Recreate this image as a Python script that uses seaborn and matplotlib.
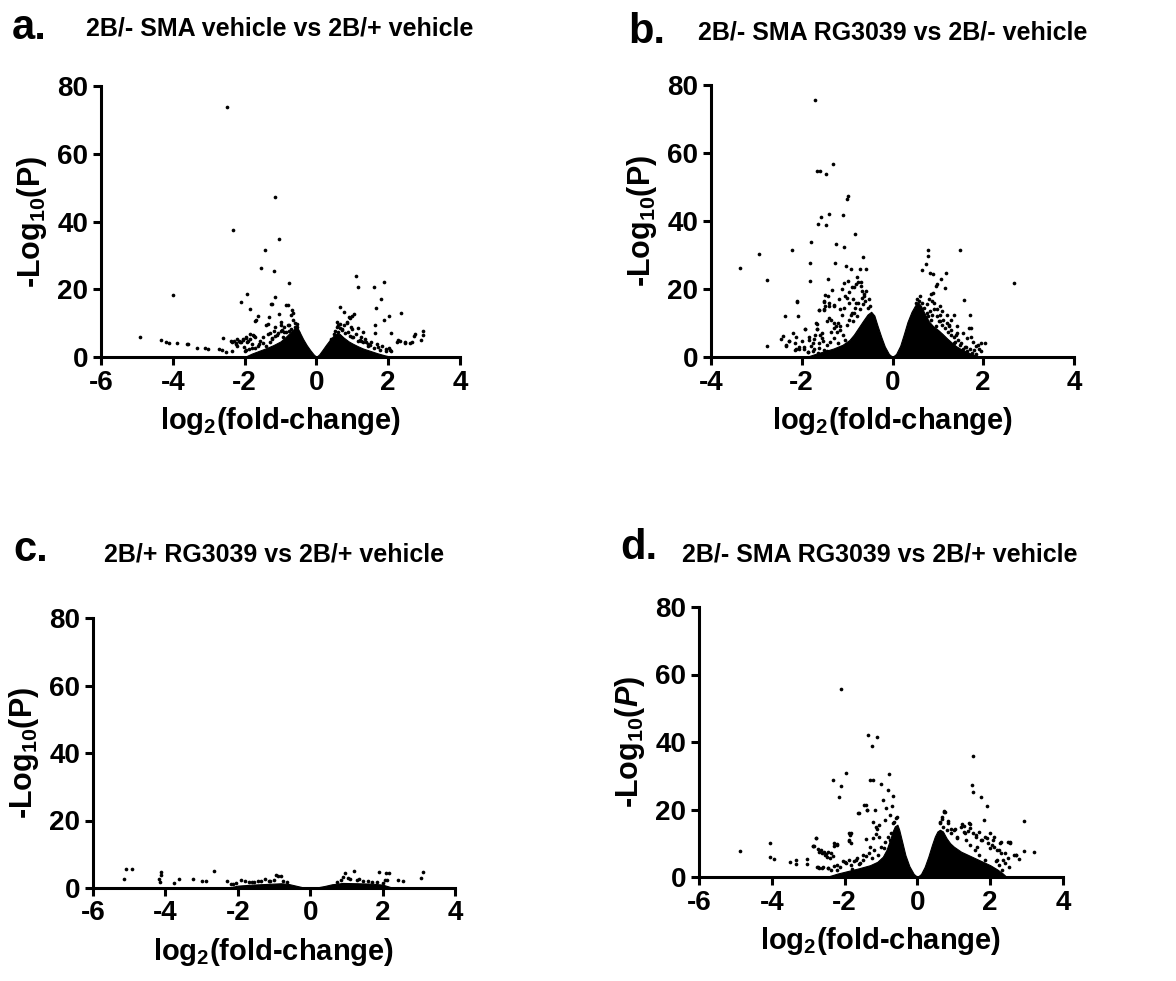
import numpy as np
import pandas as pd
import matplotlib
matplotlib.use("Agg")
import matplotlib.pyplot as plt
import seaborn as sns

# volcano plots, 4 comparisons
## values (log2 fold-change, -log10 P)
## the solid core of each cloud is drawn as an envelope, the rest as single genes

# a. 2B/- SMA vehicle vs 2B/+ vehicle
a_fc = [-4.92, -4.34, -4.18, -4.11, -3.99, -3.87, -3.61, -3.57, -3.33, -3.11, -3.03, -2.70, -2.64, -2.60,
        -2.52, -2.50, -2.36, -2.34, -2.32, -2.25, -2.21, -2.15, -2.11, -2.09, -2.05, -1.97, -1.93, -1.91,
        -1.84, -1.84, -1.75, -1.72, -1.70, -1.68, -1.64, -1.54, -1.44, -1.41, -1.35, -1.33, -1.27, -1.23,
        -1.17, -1.16, -1.15, -1.15, -1.04, -1.04, -1.00, -0.98, -0.84, -0.80, -0.77, -0.70, -0.67, -0.64,
        -0.66, -0.60, -0.75, -0.90, -1.10, -1.25, -1.50, -1.62, -1.80, -1.95, -2.02, -1.30, -0.95, -0.55,
        0.57, 0.61, 0.67, 0.76, 0.90, 0.93, 0.98, 1.04, 0.85, 0.95, 1.11, 1.17, 1.15, 1.30, 1.61, 1.62,
        1.64, 1.65, 1.80, 1.88, 1.88, 2.01, 2.09, 2.25, 2.28, 2.34, 2.36, 2.47, 2.48, 2.62, 2.66, 2.71,
        2.75, 2.91, 2.96, 2.98, 0.70, 0.80, 1.00, 1.22, 1.38, 1.50, 1.72, 1.95, 2.05, 1.45, 1.25, 0.65]
a_p = [6.0, 5.0, 4.5, 4.2, 18.2, 4.0, 3.7, 3.7, 2.8, 2.8, 2.5, 2.5, 2.0, 5.6,
       1.4, 73.9, 1.7, 4.4, 37.4, 4.2, 3.3, 4.7, 16.2, 4.4, 5.3, 5.7, 18.6, 4.7,
       14.3, 6.8, 6.2, 5.8, 10.7, 10.9, 12.2, 26.3, 31.6, 9.5, 9.8, 11.7, 15.6, 15.6,
       25.3, 8.9, 47.2, 17.6, 34.9, 12.6, 10.4, 9.4, 15.4, 15.4, 21.9, 12.4, 13.9, 13.1,
       11.0, 10.0, 9.5, 7.5, 6.5, 5.5, 4.0, 3.2, 2.6, 2.2, 3.0, 7.0, 8.0, 9.0,
       10.4, 9.4, 14.8, 13.4, 11.9, 11.5, 12.0, 12.6, 10.0, 9.0, 23.9, 20.7, 8.5, 7.5, 20.8, 9.4,
       7.0, 14.6, 17.0, 22.1, 10.9, 12.1, 7.2, 4.5, 4.9, 4.7, 13.0, 4.4, 4.2, 4.1, 4.4, 6.1,
       6.9, 4.9, 6.6, 7.6, 8.0, 7.0, 6.0, 5.0, 4.5, 3.5, 3.0, 2.5, 2.0, 3.8, 4.8, 8.5]
a_spray_fc = [-2.38, -2.30, -2.25, -2.21, -2.13, -2.05, -1.97, -1.93, -1.84, -1.80, -1.76, -1.72, -1.89,
              -1.98, -1.60, -1.56, -1.48, -1.41, -1.35, -1.30, -1.23, -1.19, -1.15, -1.07, -1.00, -0.94,
              -0.90, -0.86, -0.80, -0.75, -0.70, -0.66, -0.61, -0.57, -0.53, -0.51,
              0.41, 0.48, 0.53, 0.57, 0.61, 0.66, 0.72, 0.78, 0.84, 0.89, 0.94, 0.98, 1.02, 1.11, 1.16,
              1.23, 1.30, 1.35, 1.43, 1.52, 1.60, 1.68, 1.76, 1.84, 1.93, 2.01, 2.09]
a_spray_p = [4.8, 4.6, 3.8, 5.3, 4.3, 5.0, 6.0, 4.3, 5.3, 3.8, 6.6, 2.7, 2.5,
             1.9, 3.8, 4.8, 5.8, 3.2, 6.8, 4.3, 5.3, 7.8, 6.3, 7.0, 7.8, 5.8,
             8.8, 7.3, 9.3, 7.8, 8.3, 7.3, 8.8, 8.0, 9.8, 7.3,
             5.3, 6.8, 7.8, 8.8, 7.3, 9.8, 8.3, 9.3, 10.4, 7.3, 6.3, 8.3, 5.8, 6.8, 4.8,
             5.8, 4.3, 5.3, 3.2, 4.3, 2.7, 3.8, 2.2, 3.2, 1.9, 2.7, 1.7]
a_cloud_fc = [-2.0, -1.8, -1.6, -1.4, -1.2, -1.0, -0.9, -0.8, -0.7, -0.6, -0.52, -0.45, -0.37, -0.27,
              -0.17, -0.08, 0.0, 0.08, 0.17, 0.27, 0.37, 0.47, 0.57, 0.65, 0.75, 0.9, 1.0, 1.15, 1.3,
              1.5, 1.7, 1.9, 2.1]
a_cloud_p = [0.0, 1.0, 1.8, 2.6, 3.5, 4.6, 5.5, 6.5, 7.6, 8.5, 8.5, 7.0, 5.3, 3.5,
             2.0, 0.8, 0.0, 0.8, 2.1, 3.6, 5.0, 6.2, 7.0, 6.8, 5.8, 4.6, 4.0, 3.2, 2.5,
             1.8, 1.1, 0.5, 0.0]

# b. 2B/- SMA RG3039 vs 2B/- vehicle
b_fc = [-3.37, -2.95, -2.77, -2.77, -2.46, -2.41, -2.36, -2.34, -2.28, -2.22, -2.20, -2.13, -2.13, -2.10,
        -2.09, -2.05, -2.00, -1.93, -1.87, -1.82, -1.82, -1.80, -1.70, -1.69, -1.67, -1.66, -1.64, -1.63,
        -1.59, -1.57, -1.52, -1.52, -1.48, -1.47, -1.46, -1.42, -1.41, -1.40, -1.33, -1.31, -1.30, -1.26,
        -1.25, -1.15, -1.10, -1.07, -1.06, -1.06, -1.03, -1.01, -0.98, -0.92, -0.82, -0.72, -0.64, -0.59,
        -0.75, -0.85, -0.95, -1.00, -0.70, -0.62, -0.80, -0.90, -1.20, -1.35, -1.55, -1.75, -1.95, -1.60,
        -1.40, -1.15, -0.88, -0.68, -0.78, -1.12, -1.45, -1.72, -2.15, -1.85,
        0.64, 0.73, 0.79, 0.79, 0.82, 0.85, 0.89, 0.90, 0.95, 0.99, 1.07, 1.17, 1.15, 1.05, 0.92,
        1.36, 1.48, 1.58, 1.69, 1.71, 1.72, 1.78, 1.85, 1.65, 1.55, 1.42, 1.30, 1.20, 1.25, 1.10,
        0.98, 0.88, 0.75, 1.35, 1.62, 1.95, 1.05, 1.40, 2.68]
b_p = [26.2, 30.2, 22.6, 3.2, 5.4, 6.3, 12.1, 3.2, 4.7, 31.5, 7.0, 6.0, 2.5, 16.5,
       12.1, 2.8, 4.7, 8.2, 1.5, 22.5, 27.6, 33.7, 75.6, 9.9, 54.6, 8.2, 39.0, 13.9,
       54.6, 41.3, 14.0, 16.5, 18.2, 38.8, 53.7, 22.8, 16.0, 42.1, 19.7, 56.9, 15.4, 27.6,
       33.3, 14.0, 41.8, 21.7, 32.3, 14.3, 26.8, 46.6, 47.4, 25.8, 36.2, 25.8, 29.5, 25.8,
       22.0, 20.5, 19.0, 17.5, 21.0, 18.0, 16.0, 13.0, 10.0, 7.5, 5.5, 4.0, 3.0, 6.5,
       11.5, 9.0, 17.0, 19.5, 23.5, 12.5, 3.5, 2.5, 4.2, 6.0,
       25.6, 27.4, 31.5, 29.8, 24.6, 18.5, 18.8, 24.4, 20.8, 21.6, 22.8, 24.6, 20.3, 15.0, 16.0,
       12.3, 31.6, 16.9, 8.4, 12.3, 6.0, 4.5, 3.2, 5.5, 7.0, 9.0, 11.0, 12.5, 9.5, 13.5,
       14.0, 12.5, 13.0, 4.0, 3.0, 1.8, 10.5, 6.5, 21.9]
b_spray_fc = [-2.34, -2.28, -2.14, -2.05, -2.10, -1.93, -1.87, -1.80, -1.72, -1.67, -1.66, -1.61, -1.54,
              -1.61, -1.51, -1.44, -1.52, -1.42, -1.48, -1.40, -1.30, -1.63, -1.52, -1.35, -1.28, -1.25,
              -1.30, -1.22, -1.15, -1.10, -1.30, -1.38, -1.20, -1.05, -1.00, -0.95, -0.92, -0.88, -0.85,
              -0.82, -0.78, -0.75, -0.72, -0.68, -0.65, -0.62, -0.60, -0.58, -0.55, -0.52, -0.50, -0.95,
              -1.05, -0.90, -0.80, -0.70, -0.98, -1.12, -1.18, -1.45, -1.55, -1.70, -1.85, -1.95, -1.75,
              -1.65, -1.55,
              0.55, 0.60, 0.58, 0.52, 0.65, 0.70, 0.75, 0.62, 0.78, 0.82, 0.85, 0.88, 0.92, 0.80, 0.98,
              1.02, 1.05, 1.10, 1.12, 1.15, 1.20, 1.22, 1.25, 1.28, 1.30, 1.35, 1.38, 1.42, 1.45, 1.48,
              1.52, 1.55, 1.60, 1.65, 1.70, 1.75, 1.80, 1.85, 1.72, 1.88, 1.95, 2.03, 1.90, 1.00, 0.95,
              0.72]
b_spray_p = [3.4, 4.7, 2.2, 2.4, 16.1, 8.1, 1.5, 3.2, 5.3, 9.8, 8.1, 4.2, 4.7,
             2.7, 2.2, 1.7, 16.3, 17.8, 15.1, 15.1, 14.9, 13.7, 13.7, 11.0, 10.0, 9.0,
             8.5, 7.5, 7.8, 6.5, 5.5, 4.5, 4.0, 5.0, 9.5, 11.0, 12.5, 10.5, 13.0,
             14.5, 12.0, 16.0, 14.0, 17.5, 15.5, 18.5, 16.5, 19.5, 14.5, 17.0, 15.0, 16.0,
             18.0, 20.5, 21.5, 22.0, 22.5, 20.0, 17.0, 10.5, 7.0, 6.5, 5.0, 2.5, 1.8,
             1.2, 0.8,
             17.0, 18.0, 16.5, 15.8, 16.0, 14.5, 15.5, 13.5, 12.0, 13.5, 11.0, 16.5, 14.0, 17.0, 12.0,
             10.5, 12.5, 9.5, 11.0, 8.5, 10.0, 7.5, 9.0, 6.5, 8.0, 6.0, 4.5, 7.0, 5.0, 3.5,
             4.0, 2.5, 3.0, 1.8, 2.5, 1.2, 2.0, 1.0, 8.4, 3.5, 4.2, 4.0, 2.5, 7.5, 9.0,
             11.5]
b_cloud_fc = [-1.9, -1.7, -1.5, -1.3, -1.1, -0.95, -0.85, -0.75, -0.65, -0.55, -0.47, -0.4, -0.33, -0.25,
              -0.17, -0.08, 0.0, 0.08, 0.17, 0.25, 0.33, 0.42, 0.5, 0.57, 0.63, 0.7, 0.8, 0.9, 1.0,
              1.1, 1.2, 1.3, 1.4, 1.5, 1.65, 1.8, 1.95]
b_cloud_p = [0.0, 0.9, 1.7, 2.5, 3.6, 5.0, 6.6, 8.6, 10.6, 12.5, 13.3, 12.2, 9.2, 6.0,
             3.1, 0.9, 0.0, 0.9, 3.3, 6.7, 10.3, 13.3, 15.2, 16.0, 15.0, 13.0, 10.5, 9.0, 8.0,
             6.8, 5.5, 4.3, 3.2, 2.4, 1.4, 0.6, 0.0]

# c. 2B/+ RG3039 vs 2B/+ vehicle
c_fc = [-5.08, -4.91, -5.14, -4.11, -4.12, -4.18, -4.16, -3.76, -3.63, -3.24, -3.00, -2.88, -2.65,
        -2.29, -2.20, -2.12, -1.92, -1.80, -1.24, -0.94, -0.88, -0.82, -1.45, -1.60, -1.10,
        0.90, 0.96, 1.22, 1.05, 1.35, 1.90, 2.10, 2.18, 2.06, 2.13, 2.43, 2.57, 3.05, 3.11, 1.60]
c_p = [5.5, 5.5, 2.6, 4.8, 4.0, 2.6, 1.8, 1.6, 2.6, 2.6, 2.0, 2.1, 5.0,
       2.0, 1.3, 1.3, 2.3, 2.0, 2.6, 4.0, 3.5, 3.6, 2.2, 1.8, 2.0,
       3.3, 4.3, 5.0, 3.0, 2.8, 4.8, 4.4, 4.3, 2.5, 2.3, 2.3, 2.0, 3.0, 4.7, 2.2]
c_spray_fc = [-2.05, -1.70, -1.55, -1.35, -1.15, -1.00, -0.75, -0.65, 0.75, 0.85, 1.10, 1.30, 1.45,
              1.70, 1.85, 2.00]
c_spray_p = [1.6, 1.8, 1.9, 2.0, 2.1, 2.4, 2.2, 1.8, 1.9, 2.4, 2.6, 2.3, 2.0, 1.9, 1.7, 1.6]
c_cloud_fc = [-2.3, -2.0, -1.6, -1.2, -0.8, -0.6, -0.4, -0.2, 0.0, 0.2, 0.4, 0.6, 0.9, 1.3, 1.7,
              2.0, 2.3]
c_cloud_p = [0.0, 0.7, 1.0, 1.2, 1.4, 1.2, 0.7, 0.2, 0.0, 0.2, 0.6, 1.1, 1.5, 1.4, 1.3, 1.0, 0.0]

# d. 2B/- SMA RG3039 vs 2B/+ vehicle
d_fc = [-4.87, -4.06, -4.04, -3.94, -3.50, -3.34, -3.34, -3.04, -3.02, -2.88, -2.84, -2.79, -2.75,
        -2.70, -2.62, -2.55, -2.48, -2.40, -2.33, -2.28, -2.22, -2.16, -2.11, -2.10, -1.97, -1.89,
        -1.85, -1.85, -1.61, -1.42, -1.40, -1.38, -1.35, -1.30, -1.25, -1.22, -1.22, -1.17, -1.13,
        -1.12, -1.11, -1.01, -0.95, -0.80, -0.79, -0.67, -0.75, -0.90, -1.05, -1.50, -1.70, -2.00,
        -2.20, -1.30, -0.85, -0.70, -2.60, -2.45, -1.60, -1.80,
        0.63, 0.67, 0.74, 0.77, 0.92, 1.02, 1.23, 1.29, 1.45, 1.50, 1.52, 1.53, 1.74, 1.82, 1.91,
        1.40, 1.60, 1.75, 1.90, 2.05, 2.10, 2.25, 2.30, 2.40, 2.20, 2.50, 2.55, 2.66, 2.70, 2.78,
        2.92, 2.92, 3.19, 1.10, 1.30, 0.85, 2.00, 1.65]
d_p = [7.7, 10.1, 5.8, 5.4, 4.5, 4.9, 3.8, 5.4, 4.0, 9.1, 9.1, 11.5, 3.0,
       7.5, 7.0, 6.5, 6.0, 5.5, 28.7, 9.1, 9.7, 23.8, 55.8, 27.0, 30.8, 10.7,
       12.8, 12.4, 19.1, 21.4, 11.4, 20.0, 42.1, 28.7, 38.8, 28.7, 11.6, 19.8, 12.8,
       14.1, 41.6, 27.5, 22.7, 25.9, 30.4, 24.0, 18.5, 17.0, 15.5, 6.5, 5.0, 4.5,
       3.5, 9.0, 20.5, 21.0, 3.0, 2.8, 3.8, 2.5,
       16.3, 17.3, 19.6, 19.3, 14.1, 14.1, 15.8, 15.2, 15.6, 27.4, 35.8, 25.3, 23.8, 16.8, 21.0,
       13.5, 12.5, 11.0, 11.5, 9.5, 12.0, 8.0, 10.5, 7.0, 5.0, 10.5, 10.5, 6.4, 6.4, 5.3,
       16.5, 7.8, 7.3, 11.5, 13.0, 16.5, 8.5, 9.0]
d_spray_fc = [-2.86, -2.78, -2.72, -2.64, -2.57, -2.51, -2.45, -2.38, -2.33, -2.28, -2.22, -2.74, -2.70,
              -2.63, -2.45, -2.37, -2.28, -2.20, -2.12, -2.04, -1.96, -1.87, -1.83, -1.75, -1.67, -1.59,
              -1.50, -1.42, -1.34, -1.26, -1.18, -1.09, -1.01, -0.93, -0.89, -0.82, -0.76, -0.72, -1.05,
              -1.13, -1.22, -1.38, -1.46, -1.63, -1.87, -1.83, -1.89, -1.82, -0.64, -0.60, -0.66, -0.56,
              0.67, 0.74, 0.63, 0.71, 0.80, 0.84, 0.92, 1.00, 1.08, 1.21, 1.29, 1.41, 1.45, 1.54, 1.62,
              1.70, 1.78, 1.87, 1.95, 2.00, 2.07, 2.11, 2.19, 2.28, 2.30, 2.36, 2.42, 2.48, 2.52, 2.55,
              2.71, 2.32, 2.24, 2.15, 1.87, 1.70, 1.58, 1.45, 1.33]
d_spray_p = [9.2, 11.5, 8.3, 8.0, 7.3, 6.9, 7.4, 7.1, 6.1, 10.2, 9.5, 2.9, 2.6,
             2.8, 2.6, 2.2, 3.3, 2.2, 3.1, 4.6, 4.1, 5.1, 3.6, 4.6, 5.6, 4.1,
             5.1, 6.1, 7.1, 5.6, 8.0, 6.6, 9.0, 8.5, 10.5, 12.0, 11.0, 12.9, 12.0,
             14.9, 16.4, 19.8, 21.3, 19.0, 13.1, 12.9, 11.0, 10.0, 16.4, 17.4, 15.9, 17.8,
             17.8, 19.3, 15.9, 14.9, 13.9, 15.9, 12.9, 13.9, 12.0, 14.9, 13.4, 15.9, 14.4, 12.9, 12.0,
             13.4, 11.0, 12.0, 10.0, 12.9, 11.0, 9.0, 8.0, 10.0, 7.1, 5.1, 4.1, 5.6, 3.1, 10.0,
             6.6, 2.2, 3.6, 4.6, 5.1, 6.6, 8.0, 9.5, 11.0]
d_cloud_fc = [-2.5, -2.2, -1.9, -1.6, -1.3, -1.1, -0.95, -0.85, -0.75, -0.68, -0.62, -0.55, -0.5, -0.42,
              -0.33, -0.22, -0.1, 0.0, 0.1, 0.2, 0.3, 0.4, 0.48, 0.55, 0.62, 0.7, 0.8, 0.9, 1.0,
              1.2, 1.4, 1.6, 1.8, 2.0, 2.2, 2.35, 2.45]
d_cloud_p = [0.0, 1.0, 1.8, 2.6, 3.5, 4.5, 6.0, 8.0, 11.0, 13.5, 15.0, 15.5, 14.0, 10.5,
             6.5, 3.2, 0.9, 0.0, 0.9, 3.0, 6.0, 9.5, 12.0, 13.5, 14.0, 13.5, 11.5, 10.0, 9.0,
             7.5, 6.5, 5.5, 4.5, 3.5, 2.2, 1.0, 0.0]

panels = [
    ("a.", "2B/- SMA vehicle vs 2B/+ vehicle", a_fc + a_spray_fc, a_p + a_spray_p, a_cloud_fc, a_cloud_p, (-6, 4), False),
    ("b.", "2B/- SMA RG3039 vs 2B/- vehicle", b_fc + b_spray_fc, b_p + b_spray_p, b_cloud_fc, b_cloud_p, (-4, 4), False),
    ("c.", "2B/+ RG3039 vs 2B/+ vehicle", c_fc + c_spray_fc, c_p + c_spray_p, c_cloud_fc, c_cloud_p, (-6, 4), False),
    ("d.", "2B/- SMA RG3039 vs 2B/+ vehicle", d_fc + d_spray_fc, d_p + d_spray_p, d_cloud_fc, d_cloud_p, (-6, 4), True),
]

# axes boxes in pixels (left, top, right, bottom) measured on the figure
boxes = [(101, 86, 460, 357), (711, 85, 1074, 357), (93, 618, 455, 888), (699, 607, 1063, 877)]
title_pos = [(280, 28), (893, 33), (274, 555), (880, 555)]
letter_pos = [(12, 28), (628, 32), (13, 550), (620, 548)]

sns.set_style("white")
fam = "Liberation Sans"
plt.rcParams["font.family"] = [fam, "DejaVu Sans"]
plt.rcParams["font.weight"] = "bold"
plt.rcParams["axes.unicode_minus"] = False
plt.rcParams["text.color"] = "black"
plt.rcParams["axes.labelcolor"] = "black"
plt.rcParams["mathtext.fontset"] = "custom"
plt.rcParams["mathtext.rm"] = fam + ":bold"
plt.rcParams["mathtext.it"] = fam + ":bold:italic"
plt.rcParams["mathtext.bf"] = fam + ":bold"

W, H = 1176, 981
fig = plt.figure(figsize=(W / 100, H / 100), dpi=100)

for (letter, title, fc, p, cfc, cp, xl, ital), box, tp, lp in zip(panels, boxes, title_pos, letter_pos):
    l, t, r, b = box
    ax = fig.add_axes([l / W, 1 - b / H, (r - l) / W, (b - t) / H])
    ax.fill_between(cfc, 0, cp, color="black", lw=0.8, edgecolor="black")
    df = pd.DataFrame({"fc": fc, "p": p})
    sns.scatterplot(data=df, x="fc", y="p", ax=ax, color="black", s=7, linewidth=0, clip_on=False)
    ax.set_xlim(*xl)
    ax.set_ylim(0, 80)
    ax.set_xticks(np.arange(xl[0], xl[1] + 1, 2))
    ax.set_yticks([0, 20, 40, 60, 80])
    ax.set_facecolor("white")
    for s in ["top", "right"]:
        ax.spines[s].set_visible(False)
    for s in ["left", "bottom"]:
        ax.spines[s].set_linewidth(2.2)
        ax.spines[s].set_color("black")
    ax.tick_params(direction="out", length=6, width=2.2, labelsize=20, pad=3,
                   bottom=True, left=True, colors="black")
    for lab in ax.get_xticklabels() + ax.get_yticklabels():
        lab.set_fontweight("bold")
    ax.set_xlabel("log$_{2}$(fold-change)", fontsize=21, fontweight="bold", labelpad=7)
    ylab = "-Log$_{10}$($P$)" if ital else "-Log$_{10}$(P)"
    ax.set_ylabel(ylab, fontsize=22, fontweight="bold", labelpad=6)
    fig.text(tp[0] / W, 1 - tp[1] / H, title, ha="center", va="center", fontsize=18, fontweight="bold")
    fig.text(lp[0] / W, 1 - lp[1] / H, letter, ha="left", va="center", fontsize=30, fontweight="bold")

fig.savefig("out.png", dpi=100, facecolor="white")
